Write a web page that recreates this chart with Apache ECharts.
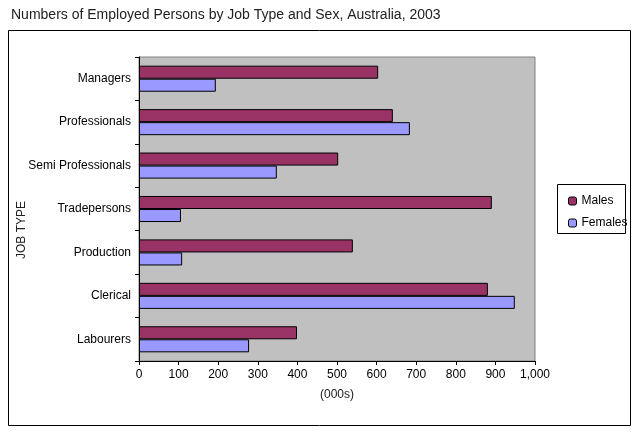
<!DOCTYPE html>
<html><head><meta charset="utf-8">
<script src="https://cdn.jsdelivr.net/npm/echarts@6/dist/echarts.min.js"></script>
<style>html,body{margin:0;padding:0;background:#fff}#c{width:640px;height:432px}</style>
</head><body><div id="c"></div>
<script>
const categories = ["Managers","Professionals","Semi Professionals","Tradepersons","Production","Clerical","Labourers"];
const males = [604, 641, 503, 891, 540, 881, 399];
const females = [194, 684, 348, 106, 109, 949, 278];
const xTicks = [0,100,200,300,400,500,600,700,800,900,1000];
const chart = echarts.init(document.getElementById('c'));
const font = 'Liberation Sans, Arial, sans-serif';
chart.setOption({
  animation:false,
  textStyle:{fontFamily:font},
  title:{text:'Numbers of Employed Persons by Job Type and Sex, Australia, 2003',left:6,top:3,
    textStyle:{fontSize:14,fontWeight:'normal',color:'#222',fontFamily:font}},
  graphic:[
    {type:'rect',shape:{x:8.5,y:30.5,width:622,height:395},style:{fill:'none',stroke:'#000',lineWidth:1}},
    {type:'rect',shape:{x:557.5,y:184.5,width:68,height:49},style:{fill:'#fff',stroke:'#000',lineWidth:1}},
    {type:'text',x:22,y:230,rotation:Math.PI/2,style:{text:'JOB TYPE',fontSize:12,fill:'#222',fontFamily:font,textAlign:'center',textVerticalAlign:'middle'}}
  ],
  legend:{orient:'vertical',left:563,top:190,itemWidth:8,itemHeight:8,itemGap:10,
    textStyle:{fontSize:12,color:'#000',fontFamily:font},
    data:[{name:'Males',itemStyle:{borderColor:'#000',borderWidth:1}},{name:'Females',itemStyle:{borderColor:'#000',borderWidth:1}}]},
  grid:{left:139,top:57,width:396,height:304,show:true,backgroundColor:'#c0c0c0',borderColor:'#808080',borderWidth:1},
  xAxis:{type:'value',min:0,max:1000,interval:100,
    name:'(000s)',nameLocation:'middle',nameGap:28,nameTextStyle:{fontSize:12,color:'#222'},
    axisLine:{show:true,lineStyle:{color:'#000'}},axisTick:{show:true,length:4,lineStyle:{color:'#000'}},
    axisLabel:{fontSize:12,color:'#000',margin:8},splitLine:{show:false}},
  yAxis:{type:'category',data:categories,inverse:true,
    axisLine:{lineStyle:{color:'#000'}},axisTick:{show:true,length:4,lineStyle:{color:'#000'}},
    axisLabel:{fontSize:12,color:'#000',margin:8}},
  series:[
    {name:'Males',type:'bar',data:males,barGap:'0%',barCategoryGap:'40%',
      itemStyle:{color:'#993366',borderColor:'#000',borderWidth:1}},
    {name:'Females',type:'bar',data:females,
      itemStyle:{color:'#9999ff',borderColor:'#000',borderWidth:1}}
  ]
});
</script></body></html>
